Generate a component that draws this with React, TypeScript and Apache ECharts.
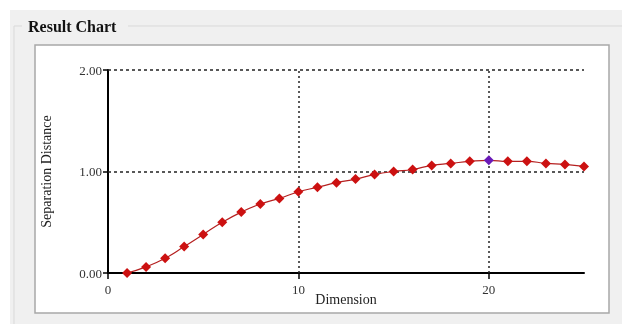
import React, { useEffect, useRef } from "react";
import * as echarts from "echarts";

const dimensions = [1, 2, 3, 4, 5, 6, 7, 8, 9, 10, 11, 12, 13, 14, 15, 16, 17, 18, 19, 20, 21, 22, 23, 24, 25];
const distances = [0.0, 0.06, 0.145, 0.26, 0.38, 0.5, 0.6, 0.68, 0.735, 0.8, 0.845, 0.89, 0.925, 0.97, 1.0, 1.02, 1.06, 1.08, 1.1, 1.11, 1.1, 1.1, 1.08, 1.07, 1.05];
const highlightDim = 20;
const xTicks = [0, 10, 20];
const xGridLines = [10, 20];
const yGridLines = [1, 2];

const SERIF = "'Liberation Serif', 'DejaVu Serif', serif";

export default function App() {
  const ref = useRef<HTMLDivElement>(null);
  useEffect(() => {
    if (!ref.current) return;
    const chart = echarts.init(ref.current, null, { renderer: "svg" });
    const data = dimensions.map((d, i) => {
      const item: any = { value: [d, distances[i]] };
      if (d === highlightDim) item.itemStyle = { color: "#6a1ab8" };
      return item;
    });
    const option: any = {
      animation: false,
      graphic: [
        { type: "rect", z: -20, silent: true, shape: { x: 10, y: 10, width: 612, height: 314 }, style: { fill: "#f0f0f0" } },
        { type: "rect", z: -19, silent: true, shape: { x: 14, y: 26, width: 620, height: 300 }, style: { fill: "none", stroke: "#d9d9d9", lineWidth: 1 } },
        { type: "rect", z: -18, silent: true, shape: { x: 22, y: 15, width: 106, height: 22 }, style: { fill: "#f0f0f0" } },
        { type: "text", z: -17, silent: true, x: 28, y: 26, style: { text: "Result Chart", fontFamily: SERIF, fontWeight: "bold", fontSize: 16, fill: "#111", verticalAlign: "middle" } },
        { type: "rect", z: -16, silent: true, shape: { x: 35, y: 45, width: 574, height: 268 }, style: { fill: "#ffffff", stroke: "#a8a8a8", lineWidth: 1.5 } },
      ],
      grid: { left: 108, right: 38, top: 70, bottom: 51, containLabel: false },
      xAxis: {
        type: "value",
        min: 0,
        max: 25,
        interval: 10,
        name: "Dimension",
        nameLocation: "middle",
        nameGap: 19,
        nameMoveOverlap: false,
        nameTextStyle: { fontFamily: SERIF, fontSize: 14, color: "#222" },
        axisLine: { onZero: false, lineStyle: { color: "#000", width: 2 } },
        axisTick: { show: true, length: 6, customValues: xTicks, lineStyle: { color: "#000", width: 1.5 } },
        axisLabel: { customValues: xTicks, fontFamily: SERIF, fontSize: 13, color: "#333", margin: 10 },
        splitLine: { show: false },
      },
      yAxis: {
        type: "value",
        min: 0,
        max: 2,
        interval: 1,
        name: "Separation Distance",
        nameLocation: "middle",
        nameGap: 55,
        nameMoveOverlap: false,
        nameRotate: 90,
        nameTextStyle: { fontFamily: SERIF, fontSize: 14, color: "#222" },
        axisLine: { show: true, lineStyle: { color: "#000", width: 2 } },
        axisTick: { show: true, length: 5, lineStyle: { color: "#000", width: 1.5 } },
        axisLabel: { fontFamily: SERIF, fontSize: 13, color: "#333", margin: 6, formatter: (v: number) => v.toFixed(2) },
        splitLine: { show: false },
      },
      series: [
        {
          type: "line",
          data,
          smooth: true,
          symbol: "diamond",
          symbolSize: 10,
          itemStyle: { color: "#cc1111" },
          lineStyle: { color: "#b52020", width: 1.2 },
          z: 5,
          markLine: {
            silent: true,
            symbol: ["none", "none"],
            label: { show: false },
            z: 3,
            data: [
              ...yGridLines.map((v) => ({ yAxis: v, lineStyle: { color: "#222", width: 1.5, type: [3, 3] } })),
              ...xGridLines.map((v) => ({ xAxis: v, lineStyle: { color: "#222", width: 1.5, type: [2, 3] } })),
            ],
          },
        },
      ],
    };
    chart.setOption(option);
    return () => chart.dispose();
  }, []);
  return <div ref={ref} style={{ position: "fixed", left: 0, top: 0, width: 622, height: 324 }} />;
}
